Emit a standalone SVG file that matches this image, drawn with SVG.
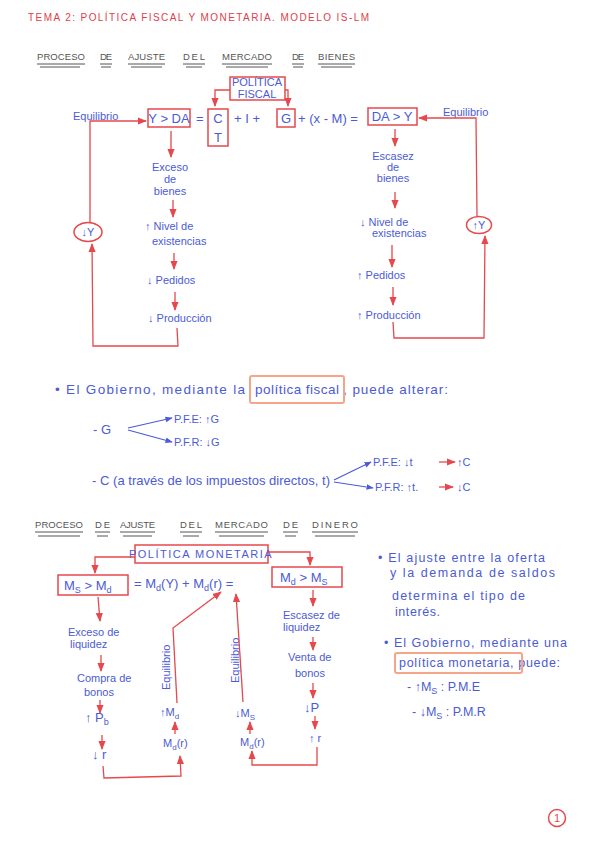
<svg xmlns="http://www.w3.org/2000/svg" width="616" height="848" viewBox="0 0 616 848">
<defs>
<marker id="ar" viewBox="0 0 10 10" refX="9" refY="5" markerWidth="7" markerHeight="7" orient="auto-start-reverse"><path d="M0,1 L10,5 L0,9 z" fill="#e5484d"/></marker>
<marker id="ab" viewBox="0 0 10 10" refX="9" refY="5" markerWidth="6" markerHeight="6" orient="auto-start-reverse"><path d="M0,1 L10,5 L0,9 z" fill="#4b5bd6"/></marker>
<style>
text{font-family:"Liberation Sans","DejaVu Sans",sans-serif;}
.b{fill:#4b5bd6;font-size:11px;}
.bm{fill:#4b5bd6;font-size:13px;}
.bl{fill:#4b5bd6;font-size:13.5px;}
.bn{fill:#4b5bd6;font-size:12.5px;}
.t{fill:#e0404a;font-size:10px;letter-spacing:1px;}
.h{fill:#555;font-size:9.5px;}
.ul{stroke:#555;stroke-width:1;}
.box{fill:none;stroke:#e5484d;stroke-width:1.5;}
.hl{fill:none;stroke:#f4a58a;stroke-width:2;}
.c{fill:none;stroke:#e5484d;stroke-width:1.3;}
.cb{fill:none;stroke:#4b5bd6;stroke-width:1.2;}
.m{text-anchor:middle;}
.r{fill:#e5484d;}
</style>
</defs>
<rect width="616" height="848" fill="#fff"/>

<g id="title"><text class="t" x="28" y="21" textLength="342" lengthAdjust="spacing">TEMA 2: POLÍTICA FISCAL Y MONETARIA. MODELO IS-LM</text></g>

<g id="heading1">
<text class="h" x="37" y="60" textLength="48">PROCESO</text>
<text class="h" x="100" y="60" textLength="12">DE</text>
<text class="h" x="128" y="60" textLength="37">AJUSTE</text>
<text class="h" x="183" y="60" textLength="22">DEL</text>
<text class="h" x="222" y="60" textLength="50">MERCADO</text>
<text class="h" x="292" y="60" textLength="12">DE</text>
<text class="h" x="318" y="60" textLength="37">BIENES</text>
<path class="ul" d="M37,64H85M40,67H80M100,64H112M101,67H111M128,64H165M131,67H162M183,64H205M186,67H202M222,64H272M226,67H268M292,64H304M293,67H303M318,64H355M321,67H352"/>
</g>

<g id="politica-fiscal"><rect class="box" x="230" y="77" width="55" height="23"/><text class="b m" x="257" y="86" font-size="7.5">POLÍTICA</text><text class="b m" x="257" y="97.5" font-size="7.5">FISCAL</text></g>
<g id="y-gt-da"><rect class="box" x="148" y="109" width="42" height="18"/><text class="bm m" x="169" y="123">Y &gt; DA</text></g>
<g id="eq1"><text class="bm" x="196" y="123">=</text><text class="bm" x="234" y="123">+   I   +</text><text class="bm" x="298" y="123">+ (x - M) =</text></g>
<g id="c-t"><rect class="box" x="208" y="109" width="20" height="37"/><text class="bm m" x="218" y="123">C</text><text class="bm m" x="218" y="142">T</text></g>
<g id="g"><rect class="box" x="277" y="109" width="18" height="18"/><text class="bm m" x="286" y="123">G</text></g>
<g id="da-gt-y"><rect class="box" x="368" y="108" width="49" height="17"/><text class="bm m" x="392" y="121">DA &gt; Y</text></g>

<g id="left-chain">
<text class="b" x="73" y="120">Equilibrio</text>
<text class="b m" x="170" y="171">Exceso</text><text class="b m" x="170" y="183">de</text><text class="b m" x="170" y="195">bienes</text>
<text class="b" x="145" y="230">↑ Nivel de</text><text class="b" x="152" y="245">existencias</text>
<text class="b" x="147" y="284">↓ Pedidos</text>
<text class="b" x="148" y="322">↓ Producción</text>
</g>
<g id="dec-y"><ellipse cx="88" cy="232" rx="14" ry="9.5" class="box"/><text class="b m" x="88" y="236" font-size="12">↓Y</text></g>

<g id="right-chain">
<text class="b" x="443" y="116">Equilibrio</text>
<text class="b m" x="393" y="160">Escasez</text><text class="b m" x="393" y="171">de</text><text class="b m" x="393" y="182">bienes</text>
<text class="b" x="360" y="226">↓ Nivel de</text><text class="b" x="372" y="237">existencias</text>
<text class="b" x="357" y="279">↑ Pedidos</text>
<text class="b" x="357" y="319">↑ Producción</text>
</g>
<g id="inc-y"><ellipse cx="479" cy="225" rx="12.5" ry="8.5" class="box"/><text class="b m" x="479" y="229" font-size="11">↑Y</text></g>

<g id="fiscal-notes">
<text class="bl" x="55" y="394" textLength="190" lengthAdjust="spacing">• El Gobierno, mediante la</text>
<text class="bl" x="255" y="394" textLength="84" lengthAdjust="spacing">política fiscal</text>
<text class="bl" x="343" y="394" textLength="105" lengthAdjust="spacing">, puede alterar:</text>
<rect class="hl" x="250" y="376" width="94" height="27" rx="2"/>
<text class="bm" x="93" y="434">- G</text>
<text class="b" x="174" y="423">P.F.E: ↑G</text>
<text class="b" x="174" y="446">P.F.R: ↓G</text>
<text class="bm" x="92" y="485" textLength="238" lengthAdjust="spacing">- C (a través de los impuestos directos, t)</text>
<text class="b" x="373" y="466">P.F.E: ↓t</text><text class="b" x="457" y="466">↑C</text>
<text class="b" x="375" y="491">P.F.R: ↑t.</text><text class="b" x="457" y="491">↓C</text>
</g>

<g id="heading2">
<text class="h" x="35" y="528" textLength="48">PROCESO</text>
<text class="h" x="95" y="528" textLength="15">DE</text>
<text class="h" x="120" y="528" textLength="35">AJUSTE</text>
<text class="h" x="180" y="528" textLength="22">DEL</text>
<text class="h" x="215" y="528" textLength="53">MERCADO</text>
<text class="h" x="283" y="528" textLength="15">DE</text>
<text class="h" x="312" y="528" textLength="46">DINERO</text>
<path class="ul" d="M35,532H83M38,536H80M95,532H110M97,536H108M120,532H155M123,536H152M180,532H202M183,536H199M215,532H268M219,536H264M283,532H298M285,536H296M312,532H358M315,536H355"/>
</g>

<g id="politica-monetaria"><rect class="box" x="135" y="545" width="133" height="18"/><text class="b m" x="201" y="558" font-size="10" letter-spacing="1.5">POLÍTICA MONETARIA</text></g>
<g id="ms-gt-md"><rect class="box" x="58" y="575" width="70" height="20"/><text class="bm" x="64" y="590">M<tspan font-size="9" dy="3">S</tspan><tspan dy="-3"> &gt; M</tspan><tspan font-size="9" dy="3">d</tspan></text></g>
<g id="eq2"><text class="bm" x="134" y="588">= M<tspan font-size="9" dy="3">d</tspan><tspan dy="-3">(Y) + M</tspan><tspan font-size="9" dy="3">d</tspan><tspan dy="-3">(r)  =</tspan></text></g>
<g id="md-gt-ms"><rect class="box" x="272" y="567" width="70" height="20"/><text class="bm" x="280" y="582">M<tspan font-size="9" dy="3">d</tspan><tspan dy="-3"> &gt; M</tspan><tspan font-size="9" dy="3">S</tspan></text></g>

<g id="money-left">
<text class="b" x="68" y="636">Exceso de</text><text class="b" x="70" y="648">liquidez</text>
<text class="b" x="77" y="682">Compra de</text><text class="b" x="84" y="696">bonos</text>
<text class="bm" x="85" y="722">↑ P<tspan font-size="9" dy="3">b</tspan></text>
<text class="bm" x="92" y="759">↓ r</text>
</g>
<g id="money-mid">
<text class="b" transform="translate(170,690) rotate(-90)">Equilibrio</text>
<text class="b" transform="translate(239,683) rotate(-90)">Equilibrio</text>
<text class="b" x="160" y="716">↑M<tspan font-size="8" dy="3">d</tspan></text>
<text class="b" x="163" y="747">M<tspan font-size="8" dy="3">d</tspan><tspan dy="-3">(r)</tspan></text>
<text class="b" x="235" y="717">↓M<tspan font-size="8" dy="3">S</tspan></text>
<text class="b" x="240" y="746">M<tspan font-size="8" dy="3">d</tspan><tspan dy="-3">(r)</tspan></text>
</g>
<g id="money-right">
<text class="b" x="283" y="619">Escasez de</text><text class="b" x="283" y="631">liquidez</text>
<text class="b" x="288" y="661">Venta de</text><text class="b" x="295" y="677">bonos</text>
<text class="bm" x="304" y="712">↓P</text>
<text class="b" x="309" y="742">↑ r</text>
</g>

<g id="money-notes">
<text class="bn" x="378" y="562" textLength="167" lengthAdjust="spacing">• El ajuste entre la oferta</text>
<text class="bn" x="390" y="577" textLength="165" lengthAdjust="spacing">y la demanda de saldos</text>
<text class="bn" x="392" y="600" textLength="133" lengthAdjust="spacing">determina el tipo de</text>
<text class="bn" x="395" y="616" textLength="45" lengthAdjust="spacing">interés.</text>
<text class="bn" x="384" y="647" textLength="183" lengthAdjust="spacing">• El Gobierno, mediante una</text>
<text class="bn" x="399" y="667" textLength="161" lengthAdjust="spacing">política monetaria, puede:</text>
<rect class="hl" x="395" y="653" width="127" height="20" rx="2"/>
<text class="bn" x="407" y="691">- ↑M<tspan font-size="9" dy="3">S</tspan><tspan dy="-3"> : P.M.E</tspan></text>
<text class="bn" x="412" y="716">- ↓M<tspan font-size="9" dy="3">S</tspan><tspan dy="-3"> : P.M.R</tspan></text>
</g>

<g id="page-number"><circle cx="557" cy="818" r="8.5" class="box"/><text class="m r" x="557" y="822" font-size="11">1</text></g>

<g id="connectors">
<path class="c" d="M230,90H215V106" marker-end="url(#ar)"/>
<path class="c" d="M285,90H288V106" marker-end="url(#ar)"/>
<path class="c" d="M90,222V121H146" marker-end="url(#ar)"/>
<path class="c" d="M171,131V157" marker-end="url(#ar)"/>
<path class="c" d="M173,200V217" marker-end="url(#ar)"/>
<path class="c" d="M174,253V269" marker-end="url(#ar)"/>
<path class="c" d="M175,292V310" marker-end="url(#ar)"/>
<path class="c" d="M177,328L178,346H93L92,244" marker-end="url(#ar)"/>
<path class="c" d="M477,216L476,118H419" marker-end="url(#ar)"/>
<path class="c" d="M395,129V146" marker-end="url(#ar)"/>
<path class="c" d="M395,192V208" marker-end="url(#ar)"/>
<path class="c" d="M392,245V267" marker-end="url(#ar)"/>
<path class="c" d="M393,287V305" marker-end="url(#ar)"/>
<path class="c" d="M393,322L394,338H484L485,236" marker-end="url(#ar)"/>
<path class="cb" d="M128,428L172,418" marker-end="url(#ab)"/>
<path class="cb" d="M128,430L172,442" marker-end="url(#ab)"/>
<path class="cb" d="M334,480L371,462" marker-end="url(#ab)"/>
<path class="cb" d="M334,482L373,488" marker-end="url(#ab)"/>
<path class="c" d="M439,462H455" marker-end="url(#ar)"/>
<path class="c" d="M439,487H453" marker-end="url(#ar)"/>
<path class="c" d="M135,557H95V573" marker-end="url(#ar)"/>
<path class="c" d="M268,552H310V565" marker-end="url(#ar)"/>
<path class="c" d="M98,597L100,621" marker-end="url(#ar)"/>
<path class="c" d="M101,655V671" marker-end="url(#ar)"/>
<path class="c" d="M100,700V713" marker-end="url(#ar)"/>
<path class="c" d="M102,735V749" marker-end="url(#ar)"/>
<path class="c" d="M103,766L104,778L181,776L180,756" marker-end="url(#ar)"/>
<path class="c" d="M175,734V722" marker-end="url(#ar)"/>
<path class="c" d="M177,703L173,628L221,592" marker-end="url(#ar)"/>
<path class="c" d="M243,702L236,594" marker-end="url(#ar)"/>
<path class="c" d="M250,734V722" marker-end="url(#ar)"/>
<path class="c" d="M317,747V765H252V751" marker-end="url(#ar)"/>
<path class="c" d="M313,590V606" marker-end="url(#ar)"/>
<path class="c" d="M313,637V650" marker-end="url(#ar)"/>
<path class="c" d="M313,683V698" marker-end="url(#ar)"/>
<path class="c" d="M315,716V729" marker-end="url(#ar)"/>
</g>
</svg>
